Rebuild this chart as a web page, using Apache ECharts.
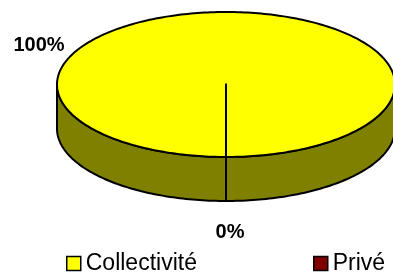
<!DOCTYPE html>
<html>
<head>
<meta charset="utf-8">
<script src="https://cdn.jsdelivr.net/npm/echarts@6/dist/echarts.min.js"></script>
<style>
html,body{margin:0;padding:0;background:#fff;}
#chart{width:393px;height:272px;}
</style>
</head>
<body>
<div id="chart"></div>
<script>
// ---- data ----
const categories = ['Collectivité', 'Privé'];
const values = [100, 0];
const labelTexts = ['100%', '0%'];

// ---- styles / layout ----
const topColors = ['#FFFF00', '#800000'];
const sideColors = ['#808000', '#400000'];
const geom = { cx: 226, cy: 84.5, rx: 169, ry: 72.5, depth: 44, startAngle: Math.PI };
const labelPos = [[39, 45], [230, 232]];
const FONT = '"Liberation Sans", Arial, sans-serif';

const total = values.reduce((a, b) => a + b, 0);
const cum = [];
values.reduce((acc, v, i) => { cum[i] = acc; return acc + v; }, 0);

function pt(theta, dy) {
  return [geom.cx + geom.rx * Math.sin(theta), geom.cy - geom.ry * Math.cos(theta) + (dy || 0)];
}
function arc(a0, a1, dy) {
  const n = Math.max(2, Math.ceil(Math.abs(a1 - a0) / 0.02));
  const out = [];
  for (let k = 0; k <= n; k++) out.push(pt(a0 + (a1 - a0) * k / n, dy));
  return out;
}

function makeRender(i) {
  return function (params, api) {
    const v = api.value(0), c = api.value(1), t = api.value(2);
    const a0 = geom.startAngle + 2 * Math.PI * c / t;
    const a1 = a0 + 2 * Math.PI * v / t;
    const children = [];
    // side faces (front half only)
    for (let k = -1; k <= 2; k++) {
      const f0 = Math.PI / 2 + 2 * Math.PI * k, f1 = 3 * Math.PI / 2 + 2 * Math.PI * k;
      const s = Math.max(a0, f0), e = Math.min(a1, f1);
      if (e > s) {
        const topArc = arc(s, e, 0);
        const botArc = arc(s, e, geom.depth).reverse();
        children.push({
          type: 'polygon',
          shape: { points: topArc.concat(botArc) },
          style: { fill: sideColors[i], stroke: '#000', lineWidth: 2, lineJoin: 'round' }
        });
      }
    }
    // top face
    const topPts = [[geom.cx, geom.cy]].concat(arc(a0, a1, 0));
    children.push({
      type: 'polygon',
      shape: { points: topPts },
      style: { fill: topColors[i], stroke: '#000', lineWidth: 2, lineJoin: 'round' }
    });
    // visible radial wall edge at slice start
    if (Math.cos(a0) <= 0) {
      children.push({
        type: 'polyline',
        shape: { points: [[geom.cx, geom.cy], pt(a0, 0), pt(a0, geom.depth)] },
        style: { fill: null, stroke: '#000', lineWidth: 2 }
      });
    }
    // label
    children.push({
      type: 'text',
      x: labelPos[i][0], y: labelPos[i][1],
      style: {
        text: labelTexts[i], fill: '#000', font: 'bold 20px ' + FONT,
        align: 'center', verticalAlign: 'middle'
      }
    });
    return { type: 'group', children: children };
  };
}

const series = categories.map((name, i) => ({
  type: 'custom',
  name: name,
  coordinateSystem: 'none',
  itemStyle: { color: topColors[i] },
  z: 2 + i,
  data: [[values[i], cum[i], total]],
  renderItem: makeRender(i)
}));

const legendCommon = {
  icon: 'rect', itemWidth: 14, itemHeight: 14, orient: 'horizontal',
  itemStyle: { borderColor: '#000', borderWidth: 1.5 },
  textStyle: { fontFamily: FONT, fontSize: 23, color: '#000', padding: [0, 0, 0, 0] },
  selectedMode: false, padding: 0, top: 252
};

const chart = echarts.init(document.getElementById('chart'), null, { renderer: 'canvas' });
chart.setOption({
  animation: false,
  backgroundColor: '#fff',
  legend: [
    Object.assign({}, legendCommon, { data: [categories[0]], left: 66 }),
    Object.assign({}, legendCommon, { data: [categories[1]], left: 313 })
  ],
  series: series
});
</script>
</body>
</html>
